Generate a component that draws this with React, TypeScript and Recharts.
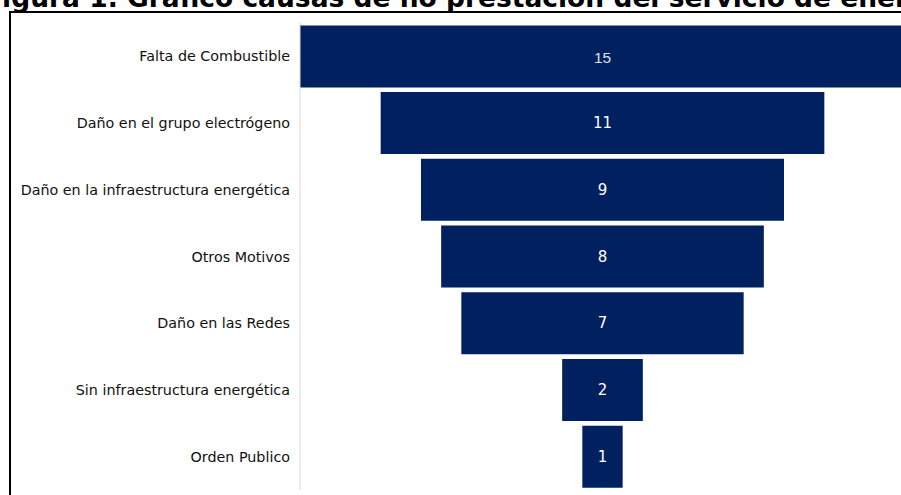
import React from "react"
import { BarChart, Bar, XAxis, YAxis, LabelList } from "recharts"

const categories = [
  "Falta de Combustible",
  "Daño en el grupo electrógeno",
  "Daño en la infraestructura energética",
  "Otros Motivos",
  "Daño en las Redes",
  "Sin infraestructura energética",
  "Orden Publico",
]
const values = [15, 11, 9, 8, 7, 2, 1]
const maxValue = 15

const title = "Figura 1. Gráfico causas de no prestación del servicio de energía"

const data = categories.map((name, i) => ({
  name,
  pad: (maxValue - values[i]) / 2,
  value: values[i],
}))

const BAR_COLOR = "#00205f"

function ValueLabel(props: any) {
  const { x, y, width, height, value, index } = props
  const first = index === 0
  return (
    <text
      x={x + width / 2}
      y={y + height / 2 + (first ? 1 : 0)}
      textAnchor="middle"
      dominantBaseline="central"
      fill={first ? "#dbe0ec" : "#ffffff"}
      fontSize={first ? 15.5 : 15}
      fontFamily={first ? "Liberation Sans, sans-serif" : "DejaVu Sans, sans-serif"}
    >
      {value}
    </text>
  )
}

export default function App() {
  return (
    <div
      style={{
        position: "absolute",
        left: 0,
        top: 0,
        width: 901,
        height: 495,
        overflow: "hidden",
        background: "#fff",
      }}
    >
      <div style={{ position: "absolute", left: 0, top: 0 }}>
        <BarChart
          width={905}
          height={495}
          data={data}
          layout="vertical"
          margin={{ top: 23, right: 0, bottom: 5, left: 0 }}
          barCategoryGap={2.4}
        >
          <XAxis type="number" domain={[0, maxValue]} hide />
          <YAxis
            type="category"
            dataKey="name"
            width={300}
            axisLine={{ stroke: "#d9d9d9" }}
            tickLine={false}
            tickMargin={4}
            tick={{ fill: "#111", fontSize: 14.3, fontFamily: "DejaVu Sans, sans-serif" }}
            interval={0}
          />
          <Bar dataKey="pad" stackId="f" fill="transparent" isAnimationActive={false} />
          <Bar dataKey="value" stackId="f" fill={BAR_COLOR} isAnimationActive={false}>
            <LabelList dataKey="value" content={<ValueLabel />} />
          </Bar>
        </BarChart>
      </div>
      <svg
        width={901}
        height={495}
        style={{ position: "absolute", left: 0, top: 0, pointerEvents: "none" }}
      >
        <text
          x={-16}
          y={7}
          fontFamily="DejaVu Sans, sans-serif"
          fontWeight="bold"
          fontSize={26.5}
          fill="#000"
        >
          {title}
        </text>
        <line x1={10} y1={12} x2={901} y2={12} stroke="#000" strokeWidth={2} />
        <line x1={10} y1={11} x2={10} y2={495} stroke="#000" strokeWidth={2} />
      </svg>
    </div>
  )
}
